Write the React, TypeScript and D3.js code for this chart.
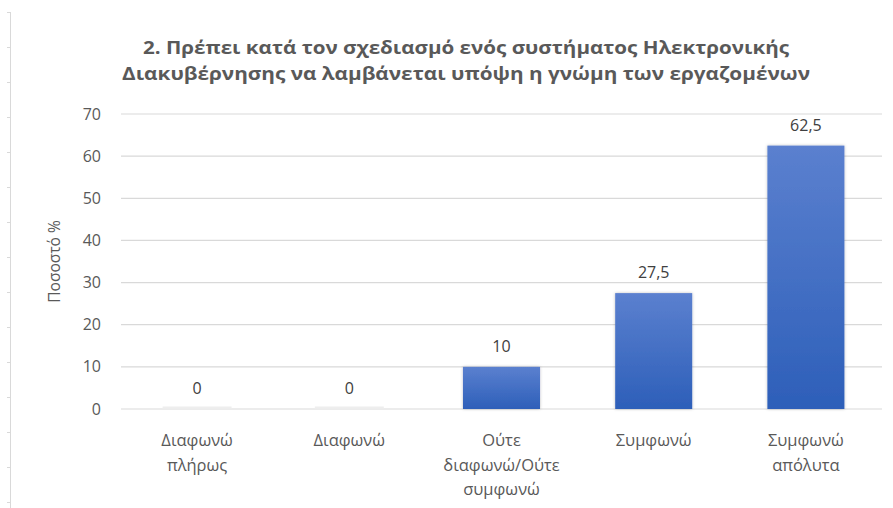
import React from "react";
import * as d3 from "d3";

const categories: string[][] = [
  ["Διαφωνώ", "πλήρως"],
  ["Διαφωνώ"],
  ["Ούτε", "διαφωνώ/Ούτε", "συμφωνώ"],
  ["Συμφωνώ"],
  ["Συμφωνώ", "απόλυτα"],
];
const values: number[] = [0, 0, 10, 27.5, 62.5];
const valueLabels: string[] = ["0", "0", "10", "27,5", "62,5"];
const yTicks: number[] = [0, 10, 20, 30, 40, 50, 60, 70];
const titleLines: string[] = [
  "2. Πρέπει κατά τον σχεδιασμό ενός συστήματος Ηλεκτρονικής",
  "Διακυβέρνησης να λαμβάνεται υπόψη η γνώμη των εργαζομένων",
];
const titleWidths: number[] = [646, 688];
const yAxisTitle = "Ποσοστό %";

const W = 893;
const H = 508;
const left = 121;
const right = 882;
const top = 114;
const bottom = 409;
const FONT = "'Open Sans', 'Noto Sans', sans-serif";

export default function App() {
  const x = d3
    .scaleBand<number>()
    .domain(d3.range(values.length))
    .range([left, right])
    .paddingInner(0.494)
    .paddingOuter(0.247);
  const y = d3.scaleLinear().domain([0, 70]).range([bottom, top]);
  const rowTicks = d3.range(12, H, 35);

  return (
    <svg
      width={W}
      height={H}
      style={{ position: "absolute", left: 0, top: 0, background: "#fff" }}
      fontFamily={FONT}
    >
      <defs>
        <linearGradient id="barGrad" x1="0" y1="0" x2="0" y2="1">
          <stop offset="0%" stopColor="#5b80cf" />
          <stop offset="100%" stopColor="#2d5fb9" />
        </linearGradient>
        <filter id="shadow" x="-10%" y="-10%" width="120%" height="120%">
          <feDropShadow dx="0" dy="0" stdDeviation="1.5" floodColor="#000" floodOpacity="0.25" />
        </filter>
      </defs>
      <rect x={0} y={0} width={W} height={H} fill="#fff" />
      {/* left frame edge */}
      <line x1={10.5} x2={10.5} y1={12} y2={H} stroke="#d9d9d9" strokeWidth={1} />
      {rowTicks.map((t) => (
        <line key={t} x1={7} x2={10} y1={t + 0.5} y2={t + 0.5} stroke="#d9d9d9" />
      ))}

      {/* title */}
      {titleLines.map((l, i) => (
        <text
          key={i}
          x={466}
          y={54 + i * 26}
          textAnchor="middle"
          fontSize={17.5}
          fontWeight="bold"
          fill="#595959"
          fontFamily={FONT}
          textLength={titleWidths[i]}
          lengthAdjust="spacingAndGlyphs"
        >
          {l}
        </text>
      ))}

      {/* gridlines */}
      {yTicks.map((t) => (
        <g key={t}>
          <line x1={left} x2={right} y1={y(t)} y2={y(t)} stroke="#d9d9d9" strokeWidth={1.2} />
          <text x={101} y={y(t)} dy="0.35em" textAnchor="end" fontSize={16} fill="#595959">
            {t}
          </text>
        </g>
      ))}

      {/* y axis title */}
      <text
        transform={`translate(60,${(top + bottom) / 2}) rotate(-90)`}
        textAnchor="middle"
        fontSize={15.5}
        fill="#595959"
      >
        {yAxisTitle}
      </text>

      {/* bars */}
      {values.map((v, i) => {
        const bx = x(i)!;
        const bw = x.bandwidth();
        const h = Math.max(y(0) - y(v), 0);
        return (
          <g key={i}>
            {v > 0 ? (
              <rect x={bx} y={y(v)} width={bw} height={h} fill="url(#barGrad)" filter="url(#shadow)" />
            ) : (
              <line x1={bx + 4} x2={bx + bw - 4} y1={y(0) - 1.5} y2={y(0) - 1.5} stroke="#eeeeee" strokeWidth={2} />
            )}
            <text
              x={bx + bw / 2}
              y={y(v) - 15}
              textAnchor="middle"
              fontSize={16}
              fill="#404040"
            >
              {valueLabels[i]}
            </text>
          </g>
        );
      })}

      {/* category labels */}
      {categories.map((lines, i) => (
        <text
          key={i}
          x={x(i)! + x.bandwidth() / 2}
          textAnchor="middle"
          fontSize={16.5}
          fill="#595959"
        >
          {lines.map((l, j) => (
            <tspan key={j} x={x(i)! + x.bandwidth() / 2} y={446 + j * 24.5}>
              {l}
            </tspan>
          ))}
        </text>
      ))}
    </svg>
  );
}
